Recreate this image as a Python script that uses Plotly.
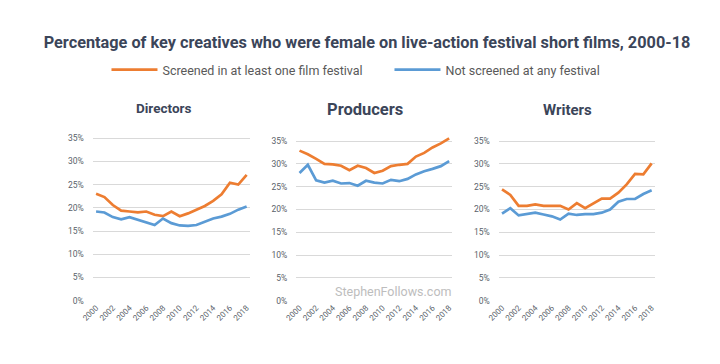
import plotly.graph_objects as go

years = list(range(2000, 2019))
panels = ["Directors", "Producers", "Writers"]
series_names = ["Screened in at least one film festival", "Not screened at any festival"]

directors_screened = [23.0, 22.3, 20.6, 19.4, 19.2, 19.0, 19.2, 18.5, 18.2, 19.2, 18.2, 18.8, 19.6, 20.4, 21.5, 22.9, 25.4, 25.0, 27.1]
directors_not = [19.2, 19.0, 18.0, 17.5, 18.0, 17.4, 16.9, 16.3, 17.7, 16.7, 16.2, 16.1, 16.3, 17.0, 17.7, 18.1, 18.7, 19.6, 20.3]
producers_screened = [32.9, 32.1, 31.1, 30.0, 29.9, 29.6, 28.6, 29.6, 29.1, 28.0, 28.5, 29.5, 29.8, 30.0, 31.6, 32.4, 33.6, 34.5, 35.6]
producers_not = [28.0, 29.8, 26.4, 25.9, 26.3, 25.7, 25.8, 25.2, 26.3, 25.9, 25.7, 26.5, 26.2, 26.7, 27.7, 28.4, 28.9, 29.5, 30.6]
writers_screened = [24.4, 23.2, 20.8, 20.8, 21.1, 20.8, 20.8, 20.8, 20.0, 21.4, 20.3, 21.4, 22.4, 22.4, 23.7, 25.5, 27.8, 27.7, 30.1]
writers_not = [19.1, 20.3, 18.7, 19.0, 19.3, 18.9, 18.5, 17.8, 19.1, 18.8, 19.0, 19.0, 19.3, 20.0, 21.7, 22.3, 22.3, 23.4, 24.2]

y_ticks = [0, 5, 10, 15, 20, 25, 30, 35]
y_tick_labels = ["0%", "5%", "10%", "15%", "20%", "25%", "30%", "35%"]
x_ticks = list(range(2000, 2019, 2))
x_tick_labels = [str(y) for y in x_ticks]

data = [(directors_screened, directors_not), (producers_screened, producers_not), (writers_screened, writers_not)]
colors = ["#ED7D31", "#5B9BD5"]

# page has an 8px body margin; map reference pixel positions into figure paper coords
OFF = 8
W, H = 720 - 2 * OFF, 364 - 2 * OFF
def px(xp): return (xp - OFF) / W
def py(yp): return 1 - (yp - OFF) / H

x_domains = [(83, 243), (290, 449), (496, 655)]
# (y of 0%, y of 35%) in reference pixels
y_px = [(305, 140), (305, 143), (305, 143)]
Y_TOP = 37.0
title_pos = [(155, 109, 13.5), (360, 111, 16.5), (566, 111, 15)]

fig = go.Figure()
for i, (scr, nots) in enumerate(data):
    ax = "" if i == 0 else str(i + 1)
    for j, vals in enumerate([scr, nots]):
        fig.add_trace(go.Scatter(
            x=years, y=vals, mode="lines", name=series_names[j],
            line=dict(color=colors[j], width=2.7),
            xaxis="x" + ax, yaxis="y" + ax,
            showlegend=(i == 0), legendgroup=str(j), hoverinfo="skip"))
    y0, y35 = y_px[i]
    per = (y0 - y35) / 35.0
    ytop = y0 - per * Y_TOP
    fig.layout["xaxis" + ax] = dict(
        domain=[px(x_domains[i][0]), px(x_domains[i][1])],
        anchor="y" + ax, range=[1999.6, 2018.4],
        tickmode="array", tickvals=x_ticks, ticktext=x_tick_labels,
        tickangle=-45, tickfont=dict(family="Roboto", size=8, color="#5a5f6a"),
        showgrid=False, zeroline=False, showline=False, ticks="")
    fig.layout["yaxis" + ax] = dict(
        domain=[py(y0), py(ytop)],
        anchor="x" + ax, range=[0, Y_TOP],
        tickmode="array", tickvals=y_ticks, ticktext=y_tick_labels,
        tickfont=dict(family="Roboto", size=8.5, color="#5a5f6a"),
        showgrid=True, gridcolor="#d9d9d9", gridwidth=1,
        zeroline=False, showline=False, ticks="", ticklabelstandoff=8)
    tx, ty, ts = title_pos[i]
    fig.add_annotation(x=px(tx), y=py(ty), xref="paper", yref="paper",
                       xanchor="center", yanchor="middle",
                       text="<b>" + panels[i] + "</b>", showarrow=False,
                       font=dict(family="Roboto", size=ts, color="#3b4559"))

fig.add_annotation(x=px(389), y=py(296), xref="paper", yref="paper",
                   xanchor="center", yanchor="middle",
                   text="StephenFollows.com", showarrow=False,
                   font=dict(family="Roboto", size=12.5, color="#bdbdbd"))

fig.update_layout(
    width=W, height=H, margin=dict(l=0, r=0, t=0, b=0),
    paper_bgcolor="white", plot_bgcolor="white",
    title=dict(text="<b>Percentage of key creatives who were female on live-action festival short films, 2000-18</b>",
               x=px(367), xanchor="center", y=py(42), yanchor="middle",
               font=dict(family="Roboto", size=16.3, color="#3b4559")),
    legend=dict(orientation="h", x=px(97), xanchor="left", y=py(71), yanchor="middle",
                font=dict(family="Roboto", size=12.5, color="#595959"),
                entrywidth=222, entrywidthmode="pixels", itemwidth=46),
)
fig.write_html("out.html")
